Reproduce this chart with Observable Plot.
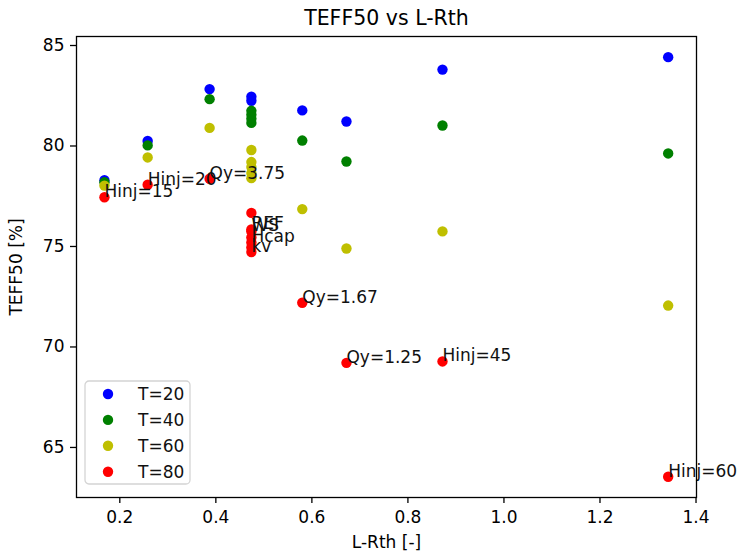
<!DOCTYPE html>
<html>
<head>
<meta charset="utf-8">
<script src="https://cdn.jsdelivr.net/npm/d3@7"></script>
<script src="https://cdn.jsdelivr.net/npm/@observablehq/plot@0.6"></script>
<style>
  body { margin: 0; background: #fff; font-family: "DejaVu Sans", sans-serif; }
  #wrap { position: relative; width: 739px; height: 553px; overflow: hidden; }
  #legend { position: absolute; left: 84px; top: 380px; }
</style>
</head>
<body>
<div id="wrap"></div>
<script>
// ---- data ----
const seriesNames = ["T=20", "T=40", "T=60", "T=80"];
const seriesColors = ["#0000ff", "#008000", "#bfbf00", "#ff0000"];

const xT20 = [0.168, 0.258, 0.387, 0.474, 0.474, 0.580, 0.672, 0.872, 1.342];
const yT20 = [78.30, 80.25, 82.83, 82.45, 82.25, 81.77, 81.22, 83.80, 84.42];

const xT40 = [0.168, 0.258, 0.387, 0.474, 0.474, 0.474, 0.474, 0.580, 0.672, 0.872, 1.342];
const yT40 = [78.20, 80.03, 82.33, 81.75, 81.55, 81.35, 81.15, 80.27, 79.23, 81.02, 79.63];

const xT60 = [0.168, 0.258, 0.387, 0.474, 0.474, 0.474, 0.474, 0.474, 0.580, 0.672, 0.872, 1.342];
const yT60 = [78.03, 79.43, 80.90, 79.80, 79.20, 78.95, 78.65, 78.40, 76.86, 74.90, 75.75, 72.06];

const xT80 = [0.168, 0.258, 0.387, 0.474, 0.474, 0.474, 0.474, 0.474, 0.474, 0.474, 0.580, 0.672, 0.872, 1.342];
const yT80 = [77.45, 78.07, 78.37, 76.67, 75.85, 75.75, 75.45, 75.20, 74.95, 74.72, 72.20, 69.21, 69.28, 63.54];
const labelsT80 = ["Hinj=15", "Hinj=20", "Qy=3.75", "", "REF", "WS", "", "Hcap", "", "kv", "Qy=1.67", "Qy=1.25", "Hinj=45", "Hinj=60"];

const xTicks = [0.2, 0.4, 0.6, 0.8, 1.0, 1.2, 1.4];
const yTicks = [65, 70, 75, 80, 85];

const titleText = "TEFF50 vs L-Rth";
const xLabel = "L-Rth [-]";
const yLabel = "TEFF50 [%]";

// ---- build table ----
const xs = [xT20, xT40, xT60, xT80];
const ys = [yT20, yT40, yT60, yT80];
const points = [];
seriesNames.forEach((name, s) => {
  xs[s].forEach((x, i) => {
    points.push({series: name, x, y: ys[s][i], label: s === 3 ? labelsT80[i] : ""});
  });
});
const labeled = points.filter(d => d.label);

const FS = 17;

const chart = Plot.plot({
  width: 739,
  height: 553,
  marginLeft: 76,
  marginRight: 43,
  marginTop: 36,
  marginBottom: 56,
  style: { fontFamily: "DejaVu Sans", fontSize: FS + "px", background: "white", color: "black", overflow: "visible" },
  x: { domain: [0.1098, 1.401] },
  y: { domain: [62.51, 85.448] },
  color: { domain: seriesNames, range: seriesColors },
  marks: [
    Plot.axisX({ ticks: xTicks, tickFormat: d3.format(".1f"), tickSize: 6, tickPadding: 7, label: null, strokeWidth: 1.3, fontSize: FS }),
    Plot.axisY({ ticks: yTicks, tickSize: 6, tickPadding: 6, label: null, strokeWidth: 1.3, fontSize: FS }),
    Plot.dot(points, { x: "x", y: "y", fill: "series", r: 5.2, stroke: null }),
    Plot.text(labeled, { x: "x", y: "y", text: "label", textAnchor: "start", lineAnchor: "middle", dy: -5.5, fontSize: FS, fill: "#111" }),
    Plot.frame({ stroke: "black", strokeWidth: 1.3 }),
    Plot.text([titleText], { frameAnchor: "top", text: d => d, textAnchor: "middle", lineAnchor: "middle", dy: -18, fontSize: 20.5 }),
    Plot.text([xLabel], { frameAnchor: "bottom", text: d => d, textAnchor: "middle", lineAnchor: "middle", dy: 45, fontSize: FS }),
    Plot.text([yLabel], { frameAnchor: "left", text: d => d, textAnchor: "middle", lineAnchor: "middle", rotate: -90, dx: -60, fontSize: FS })
  ]
});
const wrap = document.getElementById("wrap");
wrap.appendChild(chart);

// ---- legend (inside axes, lower left) ----
const lw = 106, lh = 104;
const leg = d3.select(wrap).append("svg")
  .attr("id", "legend")
  .attr("width", lw + 2).attr("height", lh + 2)
  .style("font-family", "DejaVu Sans").style("font-size", FS + "px");
leg.append("rect")
  .attr("x", 1).attr("y", 1).attr("width", lw - 1).attr("height", lh - 1)
  .attr("rx", 4).attr("fill", "rgba(255,255,255,0.8)")
  .attr("stroke", "#d4d4d4").attr("stroke-width", 1.3);
const rows = leg.selectAll("g.row").data(seriesNames).join("g")
  .attr("transform", (d, i) => `translate(0, ${14 + i * 25.9})`);
rows.append("circle").attr("cx", 24).attr("cy", 0).attr("r", 5.2)
  .attr("fill", (d, i) => seriesColors[i]);
rows.append("text").attr("x", 54).attr("y", 0).attr("dy", "0.36em").attr("fill", "#111").text(d => d);
</script>
</body>
</html>
